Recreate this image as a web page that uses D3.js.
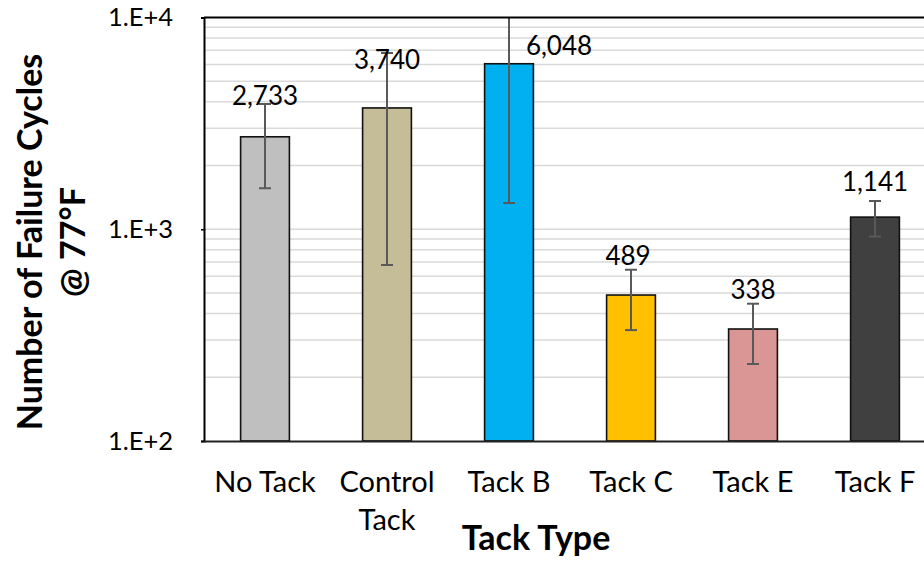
<!DOCTYPE html>
<html>
<head>
<meta charset="utf-8">
<script src="https://cdn.jsdelivr.net/npm/d3@7"></script>
<style>
  html, body { margin: 0; padding: 0; background: #fff; }
  svg { display: block; font-family: Lato, "Open Sans", sans-serif; }
</style>
</head>
<body>
<svg id="chart" width="924" height="561"></svg>
<script>
// Failure cycles at 77°F by tack type (log scale), with error bars
const categories = [["No Tack"], ["Control", "Tack"], ["Tack B"], ["Tack C"], ["Tack E"], ["Tack F"]];
const cycles     = [2733, 3740, 6048, 489, 338, 1141];
const errors     = [1170, 3062, 4717, 155, 107, 218];
const barColors  = ["#bfbfbf", "#c4bd97", "#00b0f0", "#ffc000", "#da9694", "#404040"];
const yTicks     = [100, 1000, 10000];
const yTickLabels = ["1.E+2", "1.E+3", "1.E+4"];

// label nudges (px) relative to the default spot above each bar
const labelDx = [0, 0, 50, -3, 0, 0];
const labelDy = [-32, -39, -9, -30, -30, -26];

const svg = d3.select("#chart");
const plot = { left: 204, top: 17.5, right: 936, bottom: 441 };

const x = d3.scaleBand()
  .domain(d3.range(categories.length))
  .range([plot.left, plot.right])
  .paddingInner(0.6)
  .paddingOuter(0.3);

const y = d3.scaleLog()
  .domain([100, 10000])
  .range([plot.bottom, plot.top]);

svg.append("defs").append("clipPath").attr("id", "plotClip")
  .append("rect")
  .attr("x", plot.left).attr("y", plot.top)
  .attr("width", plot.right - plot.left).attr("height", plot.bottom - plot.top);

// minor + major gridlines
const gridVals = [];
for (let dec = 100; dec < 10000; dec *= 10) {
  for (let m = 2; m <= 10; m++) gridVals.push(dec * m);
}
svg.append("g")
  .selectAll("line")
  .data(gridVals.filter(v => v < 10000))
  .join("line")
  .attr("x1", plot.left).attr("x2", plot.right)
  .attr("y1", d => y(d)).attr("y2", d => y(d))
  .attr("stroke", "#d9d9d9")
  .attr("stroke-width", 1.5);

// bars
svg.append("g")
  .selectAll("rect")
  .data(cycles)
  .join("rect")
  .attr("x", (d, i) => x(i))
  .attr("y", d => y(d))
  .attr("width", x.bandwidth())
  .attr("height", d => plot.bottom - y(d))
  .attr("fill", (d, i) => barColors[i])
  .attr("stroke", "#111")
  .attr("stroke-width", 1.6);

// error bars
const eb = svg.append("g").attr("clip-path", "url(#plotClip)")
  .attr("stroke", "#595959").attr("stroke-width", 2);
cycles.forEach((v, i) => {
  const cx = x(i) + x.bandwidth() / 2;
  const hi = y(v + errors[i]);
  const lo = y(Math.max(v - errors[i], 1));
  eb.append("line").attr("x1", cx).attr("x2", cx).attr("y1", hi).attr("y2", lo);
  eb.append("line").attr("x1", cx - 6).attr("x2", cx + 6).attr("y1", hi).attr("y2", hi);
  eb.append("line").attr("x1", cx - 6).attr("x2", cx + 6).attr("y1", lo).attr("y2", lo);
});

// plot frame: top edge
svg.append("line").attr("x1", plot.left).attr("x2", plot.right)
  .attr("y1", plot.top).attr("y2", plot.top).attr("stroke", "#000").attr("stroke-width", 2);

const yAxis = d3.axisLeft(y)
  .tickValues(yTicks)
  .tickFormat((d, i) => yTickLabels[i])
  .tickSize(3)
  .tickPadding(28);
const gy = svg.append("g").attr("transform", `translate(${plot.left},0)`).call(yAxis);
gy.select(".domain").attr("stroke", "#000").attr("stroke-width", 2);
gy.selectAll(".tick line").attr("stroke", "#000").attr("stroke-width", 1.5);
gy.selectAll(".tick text")
  .attr("font-family", "Lato, sans-serif")
  .attr("font-size", 25.5)
  .attr("fill", "#000");

const xAxis = d3.axisBottom(x).tickSize(0).tickFormat(() => "");
const gx = svg.append("g").attr("transform", `translate(0,${plot.bottom})`).call(xAxis);
gx.select(".domain").attr("stroke", "#222").attr("stroke-width", 2);

// category labels (multi-line)
gx.selectAll(".tick text").each(function(d) {
  const t = d3.select(this)
    .attr("y", 0).attr("dy", null)
    .attr("font-family", "Lato, sans-serif")
    .attr("font-size", 29)
    .attr("fill", "#000");
  categories[d].forEach((line, k) => {
    t.append("tspan").attr("x", 0).attr("y", 51 + k * 38).text(line);
  });
});

// value labels
svg.append("g")
  .selectAll("text")
  .data(cycles)
  .join("text")
  .attr("x", (d, i) => x(i) + x.bandwidth() / 2 + labelDx[i])
  .attr("y", (d, i) => y(d) + labelDy[i])
  .attr("text-anchor", "middle")
  .attr("font-size", 26)
  .attr("fill", "#000")
  .text(d => d3.format(",")(d));

// axis titles
svg.append("text")
  .attr("x", 536)
  .attr("y", 550)
  .attr("text-anchor", "middle")
  .attr("font-weight", "bold")
  .attr("font-size", 34)
  .attr("fill", "#000")
  .text("Tack Type");

const yt = svg.append("text")
  .attr("transform", "translate(0,242) rotate(-90)")
  .attr("text-anchor", "middle")
  .attr("font-weight", "bold")
  .attr("font-size", 34)
  .attr("fill", "#000");
yt.append("tspan").attr("x", 0).attr("y", 42).text("Number of Failure Cycles");
yt.append("tspan").attr("x", 0).attr("y", 85).text("@ 77°F");
</script>
</body>
</html>
